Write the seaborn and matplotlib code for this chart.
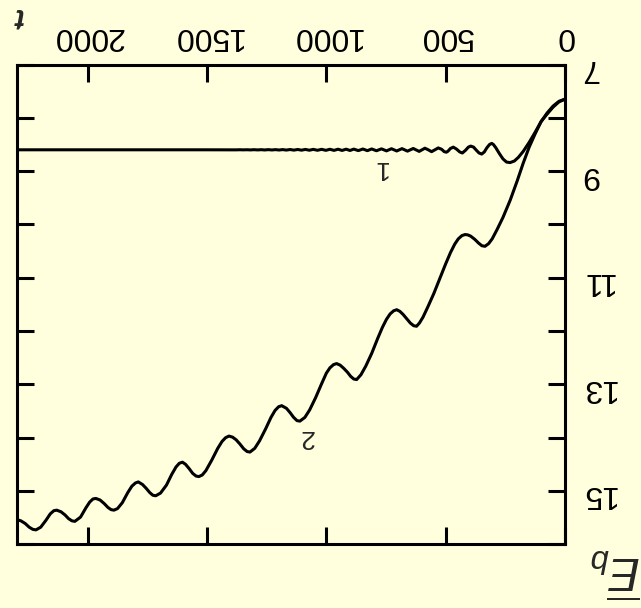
import numpy as np
import pandas as pd
import matplotlib
matplotlib.use("Agg")
import matplotlib.pyplot as plt
import seaborn as sns

# Kurve 1: t und E_b
t1 = [0, 25, 50, 75, 100, 125, 150, 175, 195, 212, 230, 245, 260, 275, 290, 300,
      307, 316, 327, 338, 349, 360, 371, 383, 395, 405, 417, 430, 441, 455, 468,
      480, 490, 497, 506, 517, 531, 545, 559, 573, 587, 611, 636, 660, 683, 705,
      727, 748, 769, 790, 810, 828, 847, 866, 885, 901, 917, 934, 951, 968, 985,
      1002, 1020, 1037, 1055, 1071, 1088, 1104, 1120, 1136, 1152, 1168, 1183, 1198,
      1213, 1228, 1243, 1258, 1273, 1288, 1303, 1318, 1333, 1348, 1363, 1378, 1500,
      2295]
e1 = [7.65, 7.69, 7.78, 7.91, 8.07, 8.27, 8.46, 8.63, 8.74, 8.81, 8.84, 8.83,
      8.77, 8.67, 8.56, 8.50, 8.48, 8.50, 8.56, 8.64, 8.68, 8.66, 8.61, 8.55, 8.53,
      8.55, 8.61, 8.66, 8.64, 8.585, 8.55, 8.575, 8.625, 8.645, 8.635, 8.59, 8.565,
      8.60, 8.635, 8.60, 8.57, 8.63, 8.575, 8.625, 8.578, 8.622, 8.58, 8.62, 8.582,
      8.618, 8.584, 8.616, 8.585, 8.615, 8.587, 8.613, 8.588, 8.612, 8.589, 8.611,
      8.59, 8.61, 8.591, 8.609, 8.592, 8.608, 8.593, 8.607, 8.594, 8.606, 8.595,
      8.605, 8.596, 8.604, 8.597, 8.603, 8.597, 8.603, 8.598, 8.602, 8.598, 8.602,
      8.599, 8.601, 8.599, 8.601, 8.60, 8.60]

# Kurve 2
t2 = [0, 25, 50, 75, 100, 125, 150, 175, 200, 230, 260, 285, 305, 320, 335, 348,
      362, 378, 395, 408, 419, 432, 447, 462, 480, 500, 525, 550, 575, 595, 610,
      622, 634, 648, 663, 678, 692, 705, 718, 733, 748, 765, 785, 810, 835, 855,
      873, 885, 898, 912, 927, 942, 957, 970, 985, 1000, 1020, 1045, 1070, 1090,
      1111, 1123, 1137, 1152, 1167, 1187, 1200, 1215, 1232, 1255, 1280, 1300, 1320,
      1332, 1346, 1362, 1378, 1393, 1408, 1422, 1437, 1455, 1480, 1505, 1520, 1534,
      1546, 1560, 1575, 1590, 1603, 1616, 1630, 1648, 1670, 1695, 1715, 1727, 1740,
      1755, 1770, 1788, 1800, 1815, 1832, 1855, 1875, 1890, 1902, 1915, 1930, 1948,
      1966, 1978, 1992, 2008, 2030, 2054, 2066, 2080, 2095, 2112, 2130, 2142, 2157,
      2175, 2197, 2217, 2230, 2245, 2262, 2280, 2295]
e2 = [7.65, 7.70, 7.80, 7.93, 8.07, 8.30, 8.55, 8.85, 9.18, 9.55, 9.87, 10.10,
      10.27, 10.36, 10.41, 10.40, 10.35, 10.28, 10.22, 10.195, 10.19, 10.21, 10.27,
      10.37, 10.53, 10.74, 11.02, 11.30, 11.55, 11.74, 11.85, 11.91, 11.90, 11.85,
      11.77, 11.69, 11.63, 11.60, 11.62, 11.68, 11.78, 11.93, 12.14, 12.42, 12.66,
      12.82, 12.91, 12.90, 12.85, 12.77, 12.70, 12.64, 12.61, 12.63, 12.69, 12.79,
      12.99, 13.25, 13.48, 13.62, 13.69, 13.68, 13.62, 13.53, 13.45, 13.40, 13.42,
      13.49, 13.62, 13.84, 14.06, 14.20, 14.27, 14.26, 14.21, 14.12, 14.04, 13.99,
      13.97, 14.00, 14.07, 14.20, 14.42, 14.62, 14.70, 14.73, 14.72, 14.67, 14.58,
      14.50, 14.46, 14.48, 14.55, 14.69, 14.89, 15.04, 15.09, 15.08, 15.03, 14.95,
      14.88, 14.83, 14.85, 14.91, 15.03, 15.22, 15.33, 15.36, 15.35, 15.31, 15.24,
      15.17, 15.14, 15.15, 15.21, 15.32, 15.49, 15.57, 15.56, 15.52, 15.45, 15.39,
      15.36, 15.37, 15.43, 15.55, 15.68, 15.73, 15.72, 15.68, 15.61, 15.56, 15.54]

x_ticks = [0, 500, 1000, 1500, 2000]
y_ticks = [7, 8, 9, 10, 11, 12, 13, 14, 15, 16]
y_ticklabels = ["7", "", "9", "", "11", "", "13", "", "15", ""]

bg = "#FFFFDD"

sns.set_theme(style="ticks")
plt.rcParams["font.family"] = ["Liberation Sans", "DejaVu Sans"]
plt.rcParams["mathtext.fontset"] = "custom"
plt.rcParams["mathtext.rm"] = "Liberation Sans"
plt.rcParams["mathtext.it"] = "Liberation Sans:italic"

df1 = pd.DataFrame({"t": t1, "E": e1})
df2 = pd.DataFrame({"t": t2, "E": e2})

fig = plt.figure(figsize=(6.41, 6.08), dpi=100, facecolor=bg)
ax = fig.add_axes([0.027, 0.1048, 0.8544, 0.7891], facecolor=bg)

sns.lineplot(data=df1, x="t", y="E", ax=ax, color="black", linewidth=2.2, estimator=None)
sns.lineplot(data=df2, x="t", y="E", ax=ax, color="black", linewidth=2.2, estimator=None)

# Bild ist um 180 Grad gedreht: beide Achsen umkehren
ax.set_xlim(2295, 0)
ax.set_ylim(16, 7)
ax.set_xticks(x_ticks)
ax.set_yticks(y_ticks)
ax.set_yticklabels(y_ticklabels)
ax.set_xlabel("")
ax.set_ylabel("")

ax.tick_params(axis="both", which="both", direction="in", length=12.5, width=2.2,
               top=True, bottom=True, left=True, right=True,
               labeltop=True, labelbottom=False, labelright=True, labelleft=False,
               labelsize=23, labelrotation=180, colors="black")
ax.tick_params(axis="x", pad=10)
ax.tick_params(axis="y", pad=11)
for s in ax.spines.values():
    s.set_linewidth(2.2)
    s.set_color("black")

ax.text(775, 8.94, "1", fontsize=19, rotation=180, ha="center", va="center")
ax.text(1085, 13.99, "2", fontsize=19, rotation=180, ha="center", va="center")

fig.text(0.02, 0.997, "t", fontsize=21, fontstyle="italic", fontweight="bold",
         rotation=180, ha="left", va="top")
fig.text(1.0, 0.012, r"$\overline{E}_b$", fontsize=34, rotation=180,
         ha="right", va="bottom")

fig.savefig("out.png", dpi=100, facecolor=bg)
